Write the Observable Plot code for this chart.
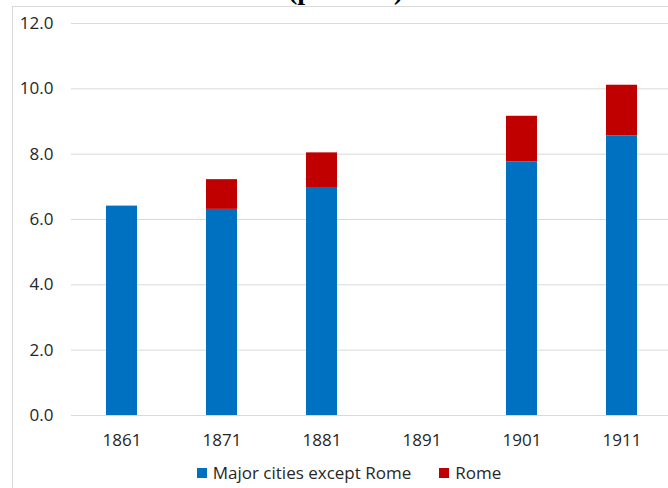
<!DOCTYPE html>
<html>
<head>
<meta charset="utf-8">
<script src="https://cdn.jsdelivr.net/npm/d3@7"></script>
<script src="https://cdn.jsdelivr.net/npm/@observablehq/plot@0.6"></script>
<style>
  html, body { margin: 0; padding: 0; background: #fff; }
  #wrap { position: relative; width: 668px; height: 488px; overflow: hidden; background: #fff; }
  #frame { position: absolute; left: 12px; top: 6px; right: -20px; bottom: -20px;
           border-left: 1px solid #d9d9d9; border-top: 1px solid #d9d9d9; }
  #title { position: absolute; left: 288px; top: -24px; line-height: 28px; white-space: nowrap;
           font-family: "Liberation Serif", "DejaVu Serif", serif; font-weight: bold; font-size: 28px; color: #000; }
  #chart { position: absolute; left: 0; top: 0; }
  #legend { position: absolute; left: 0; width: 668px; top: 462px; height: 22px; line-height: 22px;
            display: flex; justify-content: center; padding-left: 30px; box-sizing: border-box;
            font-family: "Open Sans", sans-serif; font-size: 17px; color: #262626; }
  .item { display: flex; align-items: center; margin: 0 14px; }
  .sw { width: 10px; height: 10px; margin-right: 6px; }
</style>
</head>
<body>
<div id="wrap">
  <div id="frame"></div>
  <div id="title">(per cent)</div>
  <div id="chart"></div>
  <div id="legend"></div>
</div>
<script>
const years = ["1861", "1871", "1881", "1891", "1901", "1911"];
const majorCities = [6.41, 6.31, 6.98, null, 7.76, 8.56];
const rome = [null, 0.91, 1.06, null, 1.40, 1.55];
const seriesNames = ["Major cities except Rome", "Rome"];
const seriesColors = ["#0070C0", "#C00000"];
const yTicks = [0, 2, 4, 6, 8, 10, 12];

const rows = [];
years.forEach((yr, i) => { if (majorCities[i] != null) rows.push({year: yr, series: seriesNames[0], value: majorCities[i]}); });
years.forEach((yr, i) => { if (rome[i] != null) rows.push({year: yr, series: seriesNames[1], value: rome[i]}); });

const chart = Plot.plot({
  width: 668,
  height: 455,
  marginTop: 23,
  marginBottom: 40,
  marginLeft: 71,
  marginRight: 0,
  style: {fontFamily: "Open Sans, sans-serif", fontSize: "17px", color: "#262626", background: "transparent", overflow: "visible"},
  x: {domain: years, range: [71, 672], paddingInner: 0.69, paddingOuter: 0.345, label: null, tickSize: 0, tickPadding: 18},
  y: {domain: [0, 12], label: null, ticks: yTicks, tickFormat: d3.format(".1f"), tickSize: 0, tickPadding: 18},
  color: {domain: seriesNames, range: seriesColors},
  marks: [
    Plot.ruleY(yTicks, {stroke: "#d9d9d9", strokeWidth: 1}),
    Plot.barY(rows, Plot.stackY({x: "year", y: "value", fill: "series", order: seriesNames}))
  ]
});
document.getElementById("chart").appendChild(chart);

const legend = document.getElementById("legend");
seriesNames.forEach((name, i) => {
  const item = document.createElement("div");
  item.className = "item";
  const sw = document.createElement("span");
  sw.className = "sw";
  sw.style.background = seriesColors[i];
  const label = document.createElement("span");
  label.textContent = name;
  item.appendChild(sw);
  item.appendChild(label);
  legend.appendChild(item);
});
</script>
</body>
</html>
